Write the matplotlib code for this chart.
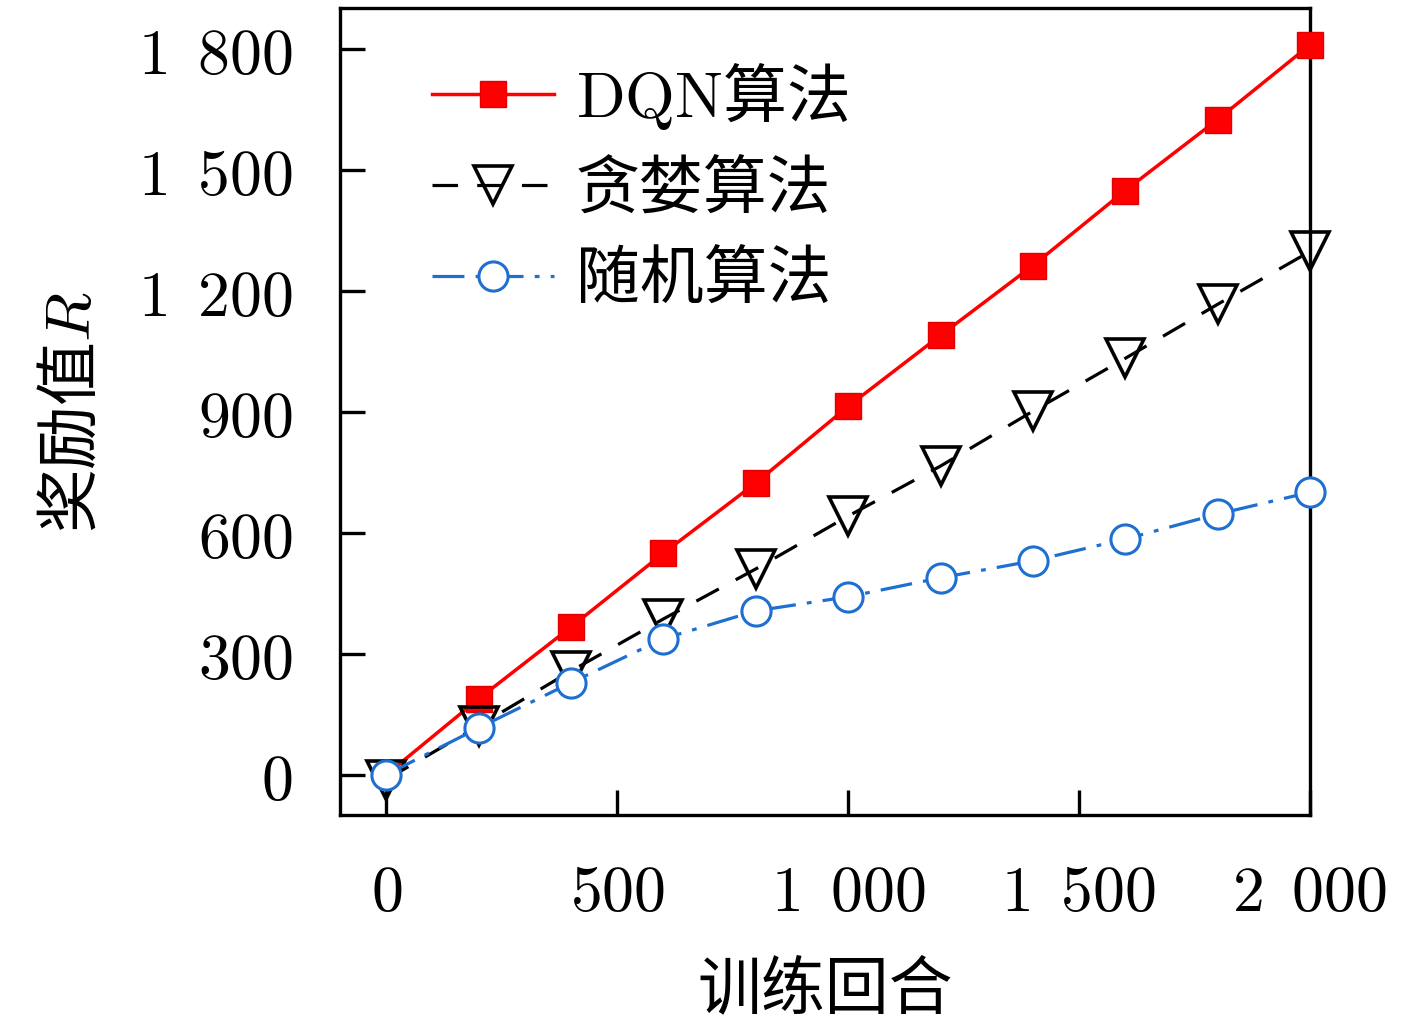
import matplotlib
matplotlib.use("Agg")
import matplotlib.pyplot as plt

plt.rcParams['font.family'] = ['Noto Sans CJK SC', 'DejaVu Sans']
plt.rcParams['mathtext.fontset'] = 'cm'

episodes = [0, 200, 400, 600, 800, 1000, 1200, 1400, 1600, 1800, 2000]
dqn = [0, 188, 366, 549, 723, 913, 1089, 1262, 1448, 1624, 1809]
greedy = [-12, 121, 257, 386, 510, 641, 765, 901, 1032, 1166, 1297]
rand = [0, 116, 228, 337, 406, 441, 488, 530, 584, 646, 700]

xticks = [0, 500, 1000, 1500, 2000]
xticklabels = [r"$0$", r"$500$", r"$1\enspace000$", r"$1\enspace500$", r"$2\enspace000$"]
yticks = [0, 300, 600, 900, 1200, 1500, 1800]
yticklabels = [r"$0$", r"$300$", r"$600$", r"$900$", r"$1\enspace200$",
               r"$1\enspace500$", r"$1\enspace800$"]
labels = [r"$\mathrm{DQN}$算法", "贪婪算法", "随机算法"]

fig = plt.figure(figsize=(14.17, 10.23), dpi=100)
ax = fig.add_axes([0.240, 0.2033, 0.6845, 0.7887])

ax.plot(episodes, dqn, color='#ff0000', lw=2.5, marker='s', ms=19,
        mfc='#ff0000', mec='#e00000', mew=1, markevery=slice(1, None),
        label=labels[0], zorder=3, clip_on=False)
ax.plot(episodes, greedy, color='black', lw=2.3, marker='v', ms=27,
        mfc='none', mec='black', mew=2.6, dashes=(8, 6), label=labels[1],
        zorder=4, clip_on=False)
ax.plot(episodes, rand, color='#1f6fd0', lw=2.3, marker='o', ms=21,
        mfc='white', mec='#1f6fd0', mew=2.2, dashes=(10, 3.5, 1.5, 3.5),
        label=labels[2], zorder=5, clip_on=False)

ax.set_xlim(-100, 2000)
ax.set_ylim(-100, 1900)
ax.set_xticks(xticks)
ax.set_xticklabels(xticklabels)
ax.set_yticks(yticks)
ax.set_yticklabels(yticklabels)
ax.tick_params(direction='in', length=18, width=2.4, labelsize=46,
               top=False, right=False)
ax.tick_params(axis='x', pad=32)
ax.tick_params(axis='y', pad=34)
for s in ax.spines.values():
    s.set_linewidth(2.4)
    s.set_zorder(2)

ax.set_xlabel("训练回合", fontsize=46)
ax.set_ylabel(r"奖励值$R$", fontsize=46)
ax.xaxis.set_label_coords(0.5, -0.176)
ax.yaxis.set_label_coords(-0.242, 0.5)

ax.legend(loc='upper left', bbox_to_anchor=(0.095, 0.935), frameon=False,
          fontsize=46, borderpad=0, borderaxespad=0, handlelength=1.9,
          handletextpad=0.35, labelspacing=0.38)

fig.savefig("out.png", dpi=100, facecolor='white')
